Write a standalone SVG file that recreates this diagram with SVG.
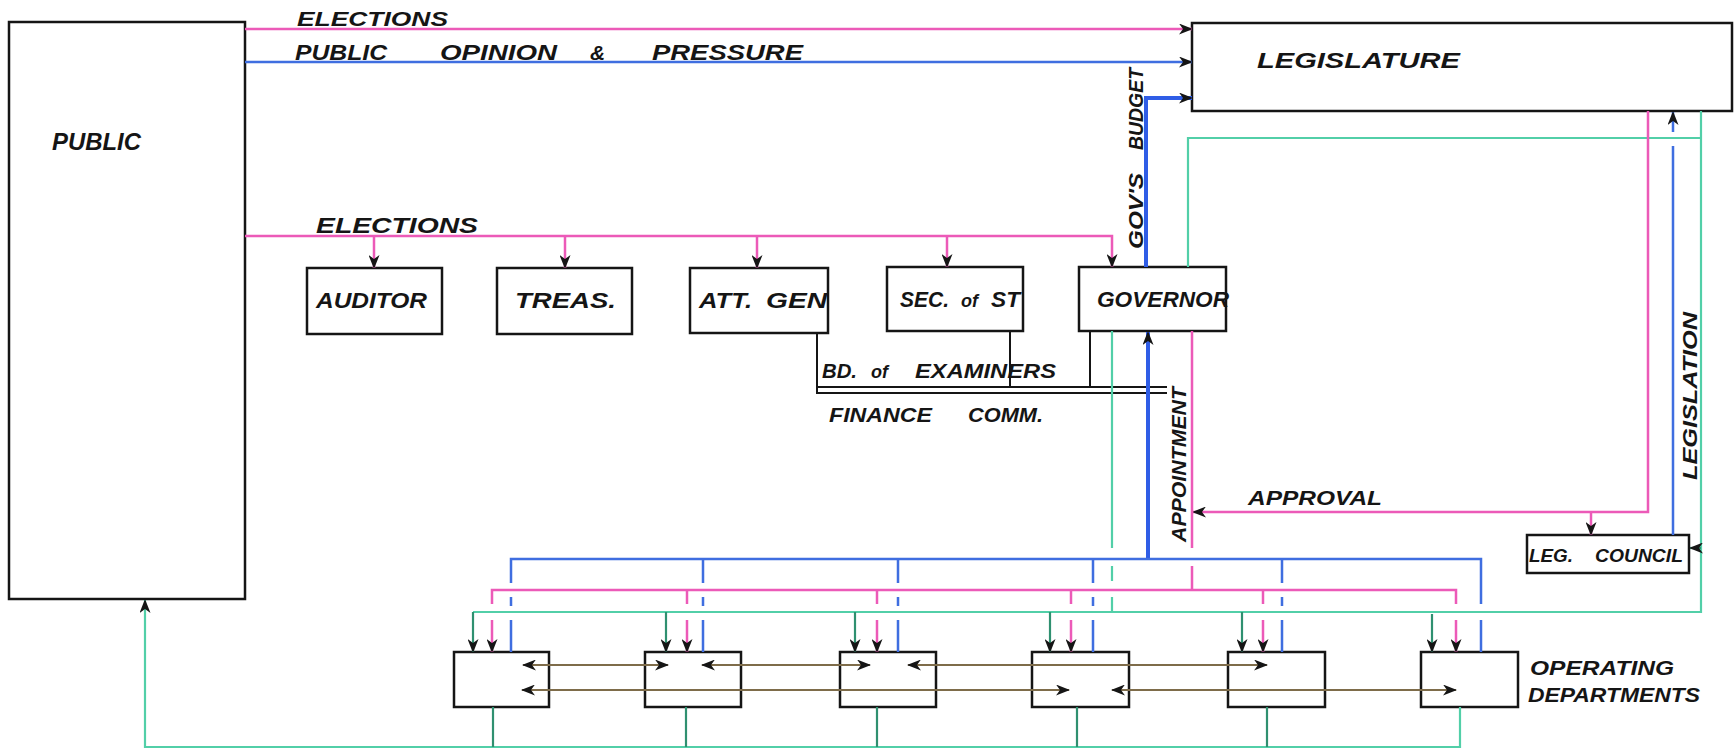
<svg xmlns="http://www.w3.org/2000/svg" width="1734" height="752" viewBox="0 0 1734 752">
<defs>
<marker id="ah" viewBox="0 0 14 11" refX="13" refY="5.5" markerWidth="14" markerHeight="11" markerUnits="userSpaceOnUse" orient="auto-start-reverse">
<path d="M0,0 L14,5.5 L0,11 L4,5.5 z" fill="#151515"/>
</marker>
<style>
.box{fill:#fff;stroke:#151515;stroke-width:2.5}
.t{font-family:"Liberation Sans",Arial,sans-serif;font-weight:bold;font-style:italic;fill:#151515}
.pk{fill:none;stroke:#ec5ab8;stroke-width:2.5}
.bl{fill:none;stroke:#3f6ee0;stroke-width:2.5}
.blt{fill:none;stroke:#2f5de6;stroke-width:4}
.gr{fill:none;stroke:#52cfa8;stroke-width:2.2}
.gd{fill:none;stroke:#2f9070;stroke-width:2.2}
.bk{fill:none;stroke:#151515;stroke-width:2}
.br{fill:none;stroke:#7e6c4a;stroke-width:2.2}
.ar{marker-end:url(#ah)}
.ab{marker-start:url(#ah);marker-end:url(#ah)}
</style>
</defs>
<rect width="1734" height="752" fill="#fff"/>

<g id="node-public">
<rect class="box" x="9" y="22" width="236" height="577"/>
<text class="t" x="52" y="150" font-size="24" textLength="89" lengthAdjust="spacingAndGlyphs">PUBLIC</text>
</g>
<g id="node-legislature">
<rect class="box" x="1192" y="23" width="540" height="88"/>
<text class="t" x="1257" y="68" font-size="22" textLength="203" lengthAdjust="spacingAndGlyphs">LEGISLATURE</text>
</g>
<g id="node-auditor">
<rect class="box" x="307" y="268" width="135" height="66"/>
<text class="t" x="316" y="308" font-size="22" textLength="111" lengthAdjust="spacingAndGlyphs">AUDITOR</text>
</g>
<g id="node-treas">
<rect class="box" x="497" y="268" width="135" height="66"/>
<text class="t" x="515" y="308" font-size="22" textLength="101" lengthAdjust="spacingAndGlyphs">TREAS.</text>
</g>
<g id="node-attgen">
<rect class="box" x="690" y="268" width="138" height="65"/>
<text class="t" x="699" y="308" font-size="22" textLength="53" lengthAdjust="spacingAndGlyphs">ATT.</text>
<text class="t" x="766" y="308" font-size="22" textLength="61" lengthAdjust="spacingAndGlyphs">GEN</text>
</g>
<g id="node-secst">
<rect class="box" x="887" y="267" width="136" height="64"/>
<text class="t" x="900" y="307" font-size="22" textLength="49" lengthAdjust="spacingAndGlyphs">SEC.</text>
<text class="t" x="961" y="307" font-size="18">of</text>
<text class="t" x="991" y="307" font-size="22" textLength="29" lengthAdjust="spacingAndGlyphs">ST</text>
</g>
<g id="node-governor">
<rect class="box" x="1079" y="267" width="147" height="64"/>
<text class="t" x="1097" y="307" font-size="22" textLength="132" lengthAdjust="spacingAndGlyphs">GOVERNOR</text>
</g>
<g id="node-legcouncil">
<rect class="box" x="1527" y="535" width="162" height="38"/>
<text class="t" x="1529" y="562" font-size="19" textLength="44" lengthAdjust="spacingAndGlyphs">LEG.</text>
<text class="t" x="1595" y="562" font-size="19" textLength="88" lengthAdjust="spacingAndGlyphs">COUNCIL</text>
</g>
<g id="node-dept1"><rect class="box" x="454" y="652" width="95" height="55"/></g>
<g id="node-dept2"><rect class="box" x="645" y="652" width="96" height="55"/></g>
<g id="node-dept3"><rect class="box" x="840" y="652" width="96" height="55"/></g>
<g id="node-dept4"><rect class="box" x="1032" y="652" width="97" height="55"/></g>
<g id="node-dept5"><rect class="box" x="1228" y="652" width="97" height="55"/></g>
<g id="node-dept6"><rect class="box" x="1421" y="652" width="97" height="55"/></g>
<g id="label-departments">
<text class="t" x="1530" y="675" font-size="20" textLength="144" lengthAdjust="spacingAndGlyphs">OPERATING</text>
<text class="t" x="1528" y="702" font-size="20" textLength="172" lengthAdjust="spacingAndGlyphs">DEPARTMENTS</text>
</g>

<g id="connectors">
<!-- public to legislature -->
<path class="pk ar" d="M245,29 H1192"/>
<path class="bl ar" d="M245,62 H1192"/>
<path class="blt ar" d="M1146,267 V98 H1192"/>
<!-- elections to officers -->
<path class="pk ar" d="M245,236 H1112 V267"/>
<path class="pk ar" d="M374,236 V268"/>
<path class="pk ar" d="M565,236 V268"/>
<path class="pk ar" d="M757,236 V268"/>
<path class="pk ar" d="M947,236 V267"/>
<!-- boards -->
<path class="bk" d="M817,333 V393 H1167"/>
<path class="bk" d="M817,387 H1167"/>
<path class="bk" d="M1010,331 V387"/>
<path class="bk" d="M1090,331 V387"/>
<!-- green administrative -->
<path class="gr" d="M1701,111 V612 H473"/>
<path class="gd ar" d="M473,612 V652"/>
<path class="gr" d="M1701,138 H1188 V267"/>
<path class="gr" d="M1112,331 V548 M1112,566 V581 M1112,597 V612"/>
<path class="gd ar" d="M666,612 V652"/>
<path class="gd ar" d="M855,612 V652"/>
<path class="gd ar" d="M1050,612 V652"/>
<path class="gd ar" d="M1242,612 V652"/>
<path class="gd ar" d="M1432,614 V652"/>
<path class="gd ar" d="M1701,548 H1690"/>
<!-- appointment (blue) -->
<path class="blt ar" d="M1148,559 V332"/>
<path class="bl" d="M511,583 V559 H1481 V604"/>
<path class="bl" d="M511,597 V606 M511,620 V652"/>
<path class="bl" d="M703,559 V583 M703,597 V606 M703,620 V652"/>
<path class="bl" d="M898,559 V583 M898,597 V606 M898,620 V652"/>
<path class="bl" d="M1093,559 V583 M1093,597 V606 M1093,620 V652"/>
<path class="bl" d="M1282,559 V583 M1282,597 V606 M1282,620 V652"/>
<path class="bl" d="M1481,620 V652"/>
<!-- approval (pink) -->
<path class="pk ar" d="M1648,111 V512 H1193"/>
<path class="pk ar" d="M1591,512 V535"/>
<path class="pk" d="M1192,331 V548 M1192,566 V590"/>
<path class="pk" d="M492,604 V590 H1456 V604"/>
<path class="pk ar" d="M492,620 V652"/>
<path class="pk" d="M687,590 V604"/><path class="pk ar" d="M687,620 V652"/>
<path class="pk" d="M877,590 V604"/><path class="pk ar" d="M877,620 V652"/>
<path class="pk" d="M1071,590 V604"/><path class="pk ar" d="M1071,620 V652"/>
<path class="pk" d="M1263,590 V604"/><path class="pk ar" d="M1263,620 V652"/>
<path class="pk ar" d="M1456,620 V652"/>
<!-- legislation (blue) -->
<path class="bl" d="M1673,535 V146"/>
<path class="bl ar" d="M1673,132 V112"/>
<!-- departments back to public -->
<path class="gr ar" d="M1460,707 V747 H145 V600"/>
<path class="gd" d="M493,707 V747"/>
<path class="gd" d="M686,707 V747"/>
<path class="gd" d="M877,707 V747"/>
<path class="gd" d="M1077,707 V747"/>
<path class="gd" d="M1267,707 V747"/>
<!-- inter-department -->
<path class="br ab" d="M523,665 H668"/>
<path class="br ab" d="M702,665 H870"/>
<path class="br ab" d="M908,665 H1267"/>
<path class="br ab" d="M522,690 H1069"/>
<path class="br ab" d="M1112,690 H1456"/>
<!-- connector labels -->
<text class="t" x="297" y="26" font-size="20" textLength="151" lengthAdjust="spacingAndGlyphs">ELECTIONS</text>
<text class="t" x="295" y="60" font-size="22" textLength="92" lengthAdjust="spacingAndGlyphs">PUBLIC</text>
<text class="t" x="440" y="60" font-size="22" textLength="117" lengthAdjust="spacingAndGlyphs">OPINION</text>
<text class="t" x="590" y="60" font-size="21">&amp;</text>
<text class="t" x="652" y="60" font-size="22" textLength="151" lengthAdjust="spacingAndGlyphs">PRESSURE</text>
<text class="t" x="316" y="233" font-size="22" textLength="162" lengthAdjust="spacingAndGlyphs">ELECTIONS</text>
<text class="t" x="1143" y="249" font-size="20" textLength="76" lengthAdjust="spacingAndGlyphs" transform="rotate(-90 1143 249)">GOV'S</text>
<text class="t" x="1143" y="150" font-size="20" textLength="82" lengthAdjust="spacingAndGlyphs" transform="rotate(-90 1143 150)">BUDGET</text>
<text class="t" x="822" y="378" font-size="21" textLength="35" lengthAdjust="spacingAndGlyphs">BD.</text>
<text class="t" x="871" y="378" font-size="18">of</text>
<text class="t" x="915" y="378" font-size="21" textLength="141" lengthAdjust="spacingAndGlyphs">EXAMINERS</text>
<text class="t" x="829" y="422" font-size="21" textLength="103" lengthAdjust="spacingAndGlyphs">FINANCE</text>
<text class="t" x="968" y="422" font-size="21" textLength="75" lengthAdjust="spacingAndGlyphs">COMM.</text>
<text class="t" x="1186" y="542" font-size="20" textLength="155" lengthAdjust="spacingAndGlyphs" transform="rotate(-90 1186 542)">APPOINTMENT</text>
<text class="t" x="1248" y="505" font-size="21" textLength="134" lengthAdjust="spacingAndGlyphs">APPROVAL</text>
<text class="t" x="1697" y="480" font-size="20" textLength="168" lengthAdjust="spacingAndGlyphs" transform="rotate(-90 1697 480)">LEGISLATION</text>
</g>
</svg>
